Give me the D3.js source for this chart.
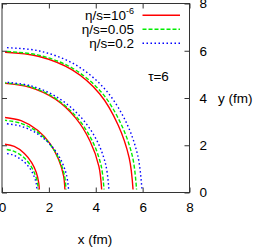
<!DOCTYPE html>
<html>
<head>
<meta charset="utf-8">
<script src="https://cdn.jsdelivr.net/npm/d3@7"></script>
<style>
  body { margin: 0; background: #fff; }
  svg { font-family: "Liberation Sans", Arial, sans-serif; }
</style>
</head>
<body>
<div id="chart"></div>
<script>
// contour radii (fm) read at these polar angles, one row per contour
var angleDeg = [0, 15, 30, 45, 60, 75, 90];
var etaTiny = [
  [1.60, 1.62, 1.69, 1.79, 1.91, 2.02, 2.06],
  [2.69, 2.72, 2.79, 2.91, 3.04, 3.15, 3.19],
  [4.26, 4.28, 4.34, 4.45, 4.56, 4.61, 4.63],
  [5.60, 5.62, 5.72, 5.90, 5.99, 5.97, 5.94]
];
var eta005 = [
  [1.55, 1.57, 1.61, 1.68, 1.76, 1.82, 1.85],
  [2.74, 2.76, 2.81, 2.89, 2.98, 3.04, 3.07],
  [4.36, 4.38, 4.43, 4.51, 4.59, 4.64, 4.65],
  [5.75, 5.77, 5.85, 6.00, 6.06, 6.02, 5.98]
];
var eta02 = [
  [1.50, 1.51, 1.54, 1.58, 1.62, 1.66, 1.67],
  [2.85, 2.85, 2.87, 2.89, 2.91, 2.92, 2.93],
  [4.57, 4.58, 4.61, 4.64, 4.67, 4.68, 4.68],
  [5.98, 6.00, 6.08, 6.20, 6.25, 6.20, 6.14]
];
var legendText = ["η/s=10", "η/s=0.05", "η/s=0.2"];
var xTicks = [0, 2, 4, 6, 8];
var yTicks = [0, 2, 4, 6, 8];
var gridStart = 0.13;

var W = 253, H = 247;
var mLeft = 2, mRight = 189.5, mTop = 3.5, mBottom = 192.5;
var fs = "13.5px";

var svg = d3.select("#chart").append("svg")
  .attr("width", W).attr("height", H);

var x = d3.scaleLinear().domain([0, 8]).range([mLeft, mRight]);
var y = d3.scaleLinear().domain([0, 8]).range([mBottom, mTop]);

var styles = [
  {data: etaTiny, color: "#ff0000", dash: null},
  {data: eta005, color: "#00ee00", dash: "4,2"},
  {data: eta02, color: "#0000ff", dash: "1.5,2.5"}
];

svg.append("clipPath").attr("id", "clip")
  .append("rect")
  .attr("x", x(gridStart)).attr("y", y(8))
  .attr("width", x(8) - x(gridStart))
  .attr("height", y(gridStart) - y(8));

var line = d3.line()
  .x(function(d){ return x(d.r * Math.cos(d.a * Math.PI / 180)); })
  .y(function(d){ return y(d.r * Math.sin(d.a * Math.PI / 180)); })
  .curve(d3.curveCatmullRom);

var curves = svg.append("g").attr("clip-path", "url(#clip)");
styles.forEach(function(s){
  s.data.forEach(function(radii){
    var pts = radii.map(function(r, i){ return {a: angleDeg[i], r: r}; });
    curves.append("path")
      .attr("d", line(pts))
      .attr("fill", "none")
      .attr("stroke", s.color)
      .attr("stroke-width", 1.4)
      .attr("stroke-dasharray", s.dash);
  });
});

// frame and inward ticks
function styleAxis(g){
  g.select(".domain").remove();
  g.selectAll(".tick line").attr("stroke", "#333");
  g.selectAll("text").attr("fill", "#000").attr("font-family", null).style("font-size", fs);
}
svg.append("g").attr("transform", "translate(0," + mBottom + ")")
  .call(d3.axisBottom(x).tickValues(xTicks).tickSizeInner(-5).tickSizeOuter(0).tickPadding(9.5))
  .call(styleAxis);
svg.append("g").attr("transform", "translate(0," + mTop + ")")
  .call(d3.axisTop(x).tickValues(xTicks).tickSizeInner(-5).tickSizeOuter(0).tickFormat(""))
  .call(styleAxis);
svg.append("g").attr("transform", "translate(" + mLeft + ",0)")
  .call(d3.axisLeft(y).tickValues(yTicks).tickSizeInner(-5).tickSizeOuter(0).tickFormat(""))
  .call(styleAxis);
svg.append("g").attr("transform", "translate(" + mRight + ",0)")
  .call(d3.axisRight(y).tickValues(yTicks).tickSizeInner(-5).tickSizeOuter(0).tickPadding(10))
  .call(styleAxis);

svg.append("rect")
  .attr("x", mLeft).attr("y", mTop)
  .attr("width", mRight - mLeft).attr("height", mBottom - mTop)
  .attr("fill", "none").attr("stroke", "#333").attr("stroke-width", 1);

// axis titles
svg.append("text").attr("x", 95).attr("y", 244)
  .attr("text-anchor", "middle").style("font-size", fs).text("x (fm)");
svg.append("text").attr("x", 218).attr("y", y(4) + 4.5)
  .style("font-size", fs).text("y (fm)");

// legend
var legend = svg.append("g");
styles.forEach(function(s, i){
  var ly = 15.3 + i * 14;
  var t = legend.append("text")
    .attr("x", 134).attr("y", ly + 4.5)
    .attr("text-anchor", "end")
    .style("font-size", fs);
  t.append("tspan").text(legendText[i]);
  if (i === 0) {
    t.append("tspan").attr("dy", -5.5).style("font-size", "9px").text("-6");
  }
  legend.append("line")
    .attr("x1", 142.5).attr("x2", 180)
    .attr("y1", ly).attr("y2", ly)
    .attr("stroke", s.color).attr("stroke-width", 1.4)
    .attr("stroke-dasharray", s.dash);
});

svg.append("text").attr("x", 158.5).attr("y", 80.5)
  .attr("text-anchor", "middle").style("font-size", fs).text("τ=6");
</script>
</body>
</html>
